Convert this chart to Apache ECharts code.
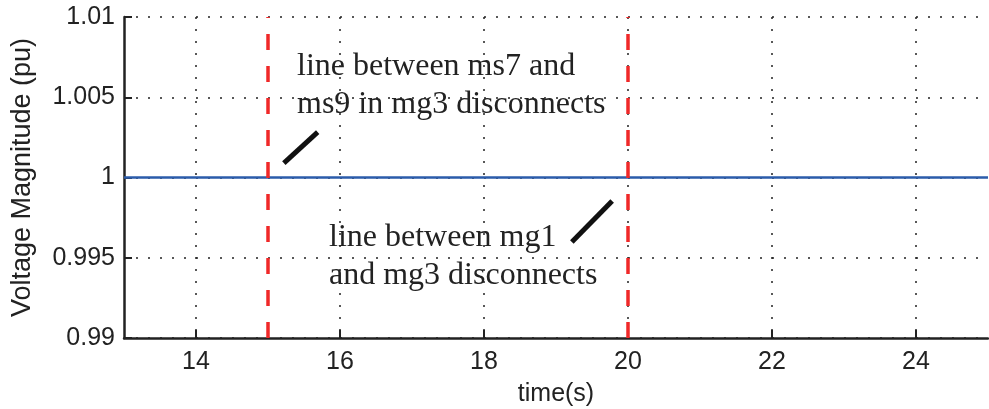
<!DOCTYPE html>
<html>
<head>
<meta charset="utf-8">
<script src="https://cdn.jsdelivr.net/npm/echarts@6/dist/echarts.min.js"></script>
<style>
html,body{margin:0;padding:0;background:#fff;}
#main{width:989px;height:409px;}
</style>
</head>
<body>
<div id="main"></div>
<script>
// data
var timeData = [13, 15, 20, 25];
var voltageData = [1, 1, 1, 1];
var eventTimes = [15, 20];
var xTicks = [14, 16, 18, 20, 22, 24];

// annotation pointers (data units)
var pointer1 = [[15.22, 1.0009], [15.69, 1.00283]];
var pointer2 = [[19.22, 0.99598], [19.78, 0.99854]];
var note1 = 'line between ms7 and\nms9 in mg3 disconnects';
var note2 = 'line between mg1\nand mg3 disconnects';

var seriesData = timeData.map(function (t, i) { return [t, voltageData[i]]; });

var dotted = { color: '#222', width: 1.5, type: [2, 10] };
var axisFont = { color: '#222', fontSize: 25, fontFamily: 'Liberation Sans, Arial, sans-serif' };
var noteFont = '32px "Liberation Serif", "Times New Roman", serif';

var eventLines = eventTimes.map(function (t) {
    return [{ coord: [t, 0.99] }, { coord: [t, 1.01] }];
});

var option = {
    animation: false,
    grid: { left: 124, right: 1, top: 17, bottom: 71, outerBoundsMode: 'none' },
    xAxis: {
        type: 'value',
        min: 13,
        max: 25,
        name: 'time(s)',
        nameLocation: 'middle',
        nameGap: 44,
        nameTextStyle: axisFont,
        axisLine: { lineStyle: { color: '#222', width: 2.5 } },
        axisTick: { inside: true, length: 8, customValues: xTicks, lineStyle: { color: '#222', width: 2 } },
        axisLabel: Object.assign({ margin: 12, customValues: xTicks }, axisFont),
        splitLine: { show: true, lineStyle: dotted }
    },
    yAxis: {
        type: 'value',
        min: 0.99,
        max: 1.01,
        interval: 0.005,
        name: 'Voltage Magnitude (pu)',
        nameLocation: 'middle',
        nameGap: 88,
        nameTextStyle: Object.assign({}, axisFont, { fontSize: 27 }),
        axisLine: { show: true, lineStyle: { color: '#222', width: 2.5 } },
        axisTick: { show: true, inside: true, length: 8, lineStyle: { color: '#222', width: 2 } },
        axisLabel: Object.assign({ margin: 9 }, axisFont),
        splitLine: { show: true, lineStyle: dotted }
    },
    series: [{
        type: 'line',
        data: seriesData,
        showSymbol: false,
        lineStyle: { color: '#2b5cab', width: 2.5 },
        z: 3,
        markLine: {
            silent: true,
            symbol: 'none',
            label: { show: false },
            lineStyle: { color: '#f02828', width: 3.5, type: [16, 16] },
            data: eventLines
        }
    }, {
        type: 'line',
        data: [],
        z: 4,
        markLine: {
            silent: true,
            symbol: 'none',
            label: { show: false },
            lineStyle: { color: '#111', width: 5, type: 'solid' },
            data: [
                [{ coord: pointer1[0] }, { coord: pointer1[1] }],
                [{ coord: pointer2[0] }, { coord: pointer2[1] }]
            ]
        }
    }],
    graphic: [{
        type: 'text',
        left: 297,
        top: 48,
        style: { text: note1, fill: '#222', font: noteFont, lineHeight: 38 }
    }, {
        type: 'text',
        left: 329,
        top: 219,
        style: { text: note2, fill: '#222', font: noteFont, lineHeight: 38 }
    }]
};

var chart = echarts.init(document.getElementById('main'));
chart.setOption(option);
</script>
</body>
</html>
